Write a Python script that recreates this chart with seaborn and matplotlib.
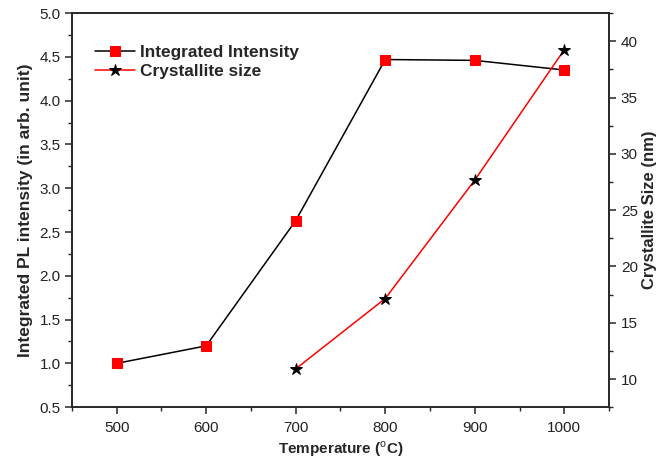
import matplotlib
matplotlib.use("Agg")
import matplotlib.pyplot as plt
import seaborn as sns
import pandas as pd
from matplotlib.ticker import MultipleLocator

temps_int = [500, 600, 700, 800, 900, 1000]
intensity = [1.0, 1.2, 2.63, 4.47, 4.46, 4.35]
temps_size = [700, 800, 900, 1000]
cryst_size = [10.9, 17.15, 27.67, 39.26]

sns.set_style("ticks")
plt.rcParams['font.family'] = ['Liberation Sans', 'DejaVu Sans']
plt.rcParams['mathtext.fontset'] = 'custom'
plt.rcParams['mathtext.rm'] = 'Liberation Sans'
plt.rcParams['mathtext.bf'] = 'Liberation Sans:bold'

fig = plt.figure(figsize=(6.65, 4.68), dpi=100)
ax = fig.add_axes([0.108, 0.130, 0.808, 0.842])
ax2 = ax.twinx()

df1 = pd.DataFrame({"T": temps_int, "I": intensity})
df2 = pd.DataFrame({"T": temps_size, "S": cryst_size})

sns.lineplot(data=df1, x="T", y="I", ax=ax, color="black", lw=1.1,
             marker="s", markersize=6.5, markerfacecolor="red", markeredgecolor="red",
             label="Integrated Intensity", legend=False)
sns.lineplot(data=df2, x="T", y="S", ax=ax2, color="red", lw=1.1,
             marker="*", markersize=9, markerfacecolor="black", markeredgecolor="black",
             label="Crystallite size", legend=False)

ax.set_xlim(450, 1050)
ax.set_ylim(0.5, 5.0)
ax2.set_ylim(7.5, 42.5)
ax.xaxis.set_major_locator(MultipleLocator(100))
ax.xaxis.set_minor_locator(MultipleLocator(50))
ax.yaxis.set_major_locator(MultipleLocator(0.5))
ax.yaxis.set_minor_locator(MultipleLocator(0.25))
ax2.set_yticks([10, 15, 20, 25, 30, 35, 40])
ax2.yaxis.set_minor_locator(MultipleLocator(2.5))

for a in (ax, ax2):
    for s in a.spines.values():
        s.set_linewidth(1.2)
        s.set_visible(True)
    a.tick_params(which="major", length=5, width=1.1, labelsize=11, direction="out",
                  labelcolor="#222222")
    a.tick_params(which="minor", length=3, width=1.0, direction="out")
ax.tick_params(axis="x", pad=5)
ax.tick_params(axis="y", pad=3)

ax.set_xlabel(r"Temperature ($^{\mathrm{o}}$C)", fontsize=11, fontweight="bold", labelpad=3)
ax.set_ylabel("Integrated PL intensity (in arb. unit)", fontsize=12.5, fontweight="bold", labelpad=5)
ax2.set_ylabel("Crystallite Size (nm)", fontsize=12, fontweight="bold", labelpad=3)

h1, l1 = ax.get_legend_handles_labels()
h2, l2 = ax2.get_legend_handles_labels()
leg = ax.legend(h1 + h2, l1 + l2, loc="upper left", bbox_to_anchor=(0.043, 0.92),
                frameon=False, prop={"weight": "bold", "size": 12.4},
                handlelength=2.3, handletextpad=0.3, labelspacing=0.25,
                borderaxespad=0, borderpad=0)

fig.savefig("out.png", dpi=100)
